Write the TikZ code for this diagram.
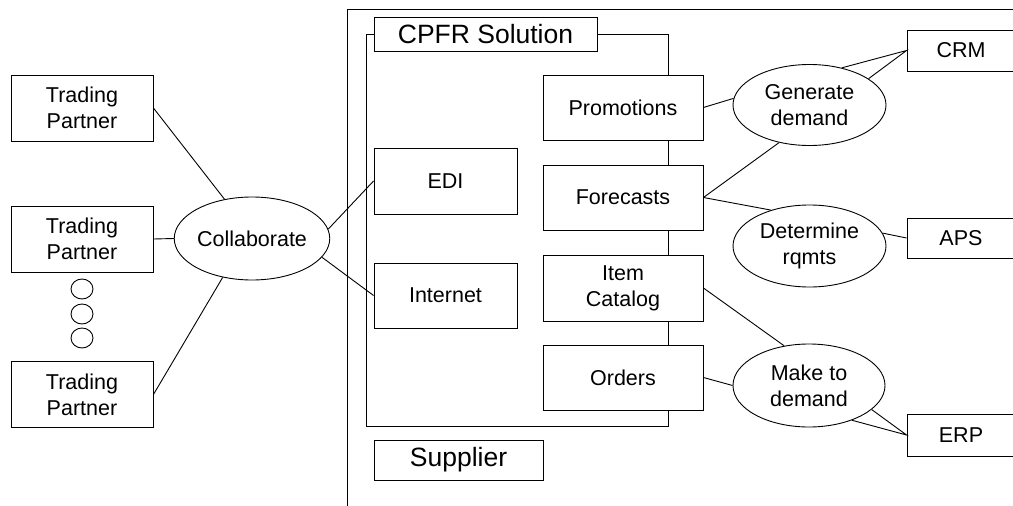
\documentclass[tikz,border=0pt]{standalone}
\usepackage{fontspec}
\setmainfont{Liberation Sans}
\usetikzlibrary{shapes.geometric}
\begin{document}
\begin{tikzpicture}[x=1pt,y=-1pt,
  every node/.style={font=\fontsize{21.5}{26}\selectfont, align=center, inner sep=0pt},
  box/.style={draw, line width=0.9pt, rectangle, minimum width=#1},
  box/.default=160,
  oval/.style={draw, line width=0.9pt, ellipse, minimum width=153, minimum height=81},
  title/.style={draw, line width=0.9pt, rectangle, font=\fontsize{26.5}{30}\selectfont},
  link/.style={line width=0.9pt},
  frame/.style={line width=1pt}]
\clip (0,0) rectangle (1013,506);
\fill[white] (0,0) rectangle (1013,506);

% Supplier boundary
\draw[frame] (1013,9) -- (347,9) -- (347,510);

% Trading partners
\node[box=142, minimum height=66] (tp1) at (82,108) {Trading\\Partner};
\node[box=142, minimum height=66] (tp2) at (82,239) {Trading\\Partner};
\node[box=142, minimum height=66] (tp3) at (82,394.5) {Trading\\Partner};
\node[draw, line width=0.9pt, ellipse, minimum width=22, minimum height=20] (dot1) at (82,289) {};
\node[draw, line width=0.9pt, ellipse, minimum width=22, minimum height=20] (dot2) at (82,314) {};
\node[draw, line width=0.9pt, ellipse, minimum width=22, minimum height=20] (dot3) at (82,338) {};
\node[oval, minimum width=146, minimum height=83] (collab) at (252,238.5) {Collaborate};

% CPFR solution
\node[title, minimum width=223, minimum height=34] (cpfr) at (485.5,34) {CPFR Solution};
\node[box=143, minimum height=66] (edi) at (445.5,181) {EDI};
\node[box=143, minimum height=65] (inet) at (445.5,295.5) {Internet};
\node[box, minimum height=65] (promo) at (623,107.5) {Promotions};
\node[box, minimum height=65] (fcst) at (623,197.5) {Forecasts};
\node[box, minimum height=66] (item) at (623,288) {Item\\Catalog};
\node[box, minimum height=65] (orders) at (623,377.5) {Orders};
\node[title, minimum width=169, minimum height=40] (supp) at (458.5,460) {Supplier};

% processes
\node[oval] (gen) at (809.5,105) {Generate\\demand};
\node[oval, minimum height=82] (det) at (809.5,246) {Determine\\rqmts};
\node[oval, minimum width=152, minimum height=83] (make) at (809,385.5) {Make to\\demand};

% enterprise systems
\node[box=108, minimum height=41] (crm) at (961,50.5) {CRM};
\node[box=108, minimum height=40] (aps) at (961,238) {APS};
\node[box=108, minimum height=42] (erp) at (961,435) {ERP};

% CPFR solution frame and spine
\draw[frame] (cpfr.west) -- (366,34) -- (366,426) -- (668,426) -- (orders.south -| 668,0);
\draw[frame] (cpfr.east) -- (668,34) -- (promo.north -| 668,0);
\draw[link] (promo.south -| 668,0) -- (fcst.north -| 668,0);
\draw[link] (fcst.south -| 668,0) -- (item.north -| 668,0);
\draw[link] (item.south -| 668,0) -- (orders.north -| 668,0);

% trading partner links
\draw[link] (tp1.east) -- (collab.125);
\draw[link] (tp2.east) -- (collab.west);
\draw[link] (tp3.east) -- (collab.233.7);
\draw[link] (collab.7) -- (edi.west);
\draw[link] (collab.-15) -- (inet.west);

% process links
\draw[link] (promo.east) -- (gen.175);
\draw[link] (fcst.east) -- (gen.231);
\draw[link] (fcst.east) -- (det.137.7);
\draw[link] (item.east) -- (make.122);
\draw[link] (orders.east) -- (make.west);
\draw[link] (gen.49.7) -- (crm.west) -- (gen.24.3);
\draw[link] (det.10) -- (aps.west);
\draw[link] (make.-39) -- (erp.west) -- (make.-21);
\end{tikzpicture}
\end{document}
